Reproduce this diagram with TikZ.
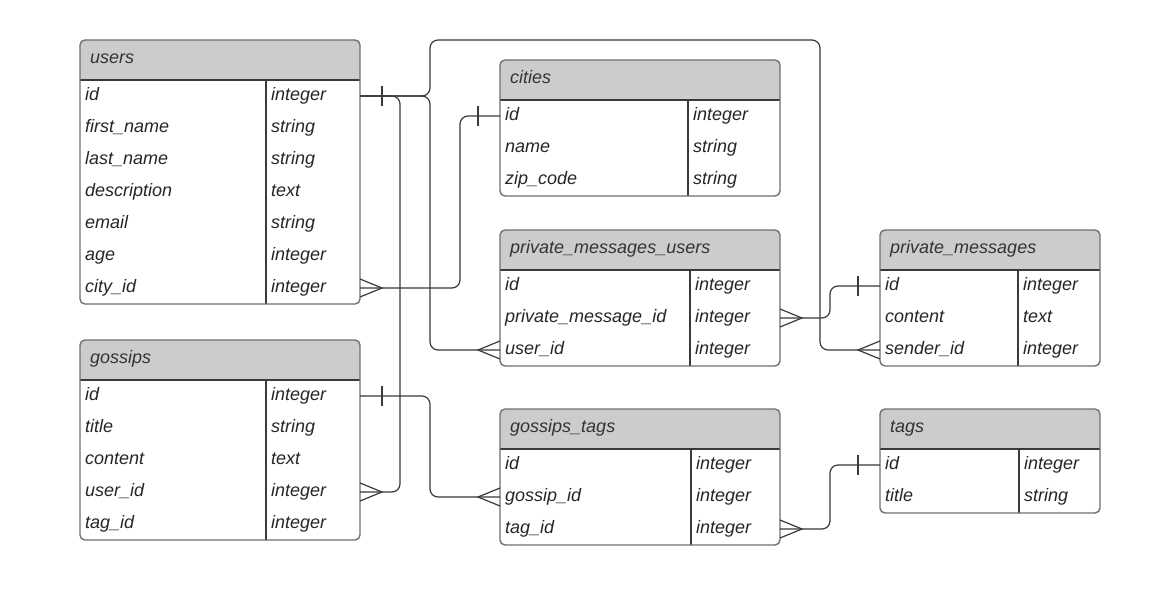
\documentclass[tikz,border=0pt]{standalone}
\usepackage{fontspec}
\setmainfont{Liberation Sans}
\usetikzlibrary{calc}

\definecolor{headgray}{HTML}{CCCCCC}
\definecolor{edgegray}{HTML}{707070}
\definecolor{linegray}{HTML}{3A3A3A}
\definecolor{titletext}{HTML}{333333}

\tikzset{
  tblborder/.style = {draw = edgegray, line width = 1.4pt, rounded corners = 5pt},
  tblline/.style = {draw = linegray, line width = 1.1pt},
  rel/.style = {draw = linegray, line width = 1.2pt, rounded corners = 8pt},
  endmark/.style = {draw = linegray, line width = 1.2pt},
  fieldtext/.style = {anchor = base west, inner sep = 0pt, font = \fontsize{18}{20}\selectfont\itshape, text = black!85},
  titlenode/.style = {fieldtext, text = titletext},
}

% #1 name, #2 left, #3 top, #4 width, #5 divider, #6 title, #7 rows, #8 fields
\newcommand{\erdtable}[8]{
  \pgfmathsetmacro\tblbottom{#3+40+32*#7}
  \begin{scope}
    \clip[rounded corners = 5pt] (#2,#3) rectangle (#2+#4,\tblbottom);
    \fill[white] (#2,#3) rectangle (#2+#4,\tblbottom);
    \fill[headgray] (#2,#3) rectangle (#2+#4,#3+40);
  \end{scope}
  \draw[tblline] (#2,#3+40) -- (#2+#4,#3+40);
  \draw[tblline] (#2+#5,#3+40) -- (#2+#5,\tblbottom);
  \draw[tblborder] (#2,#3) rectangle (#2+#4,\tblbottom);
  \node[titlenode] (#1) at (#2+10,#3+23) {#6};
  \foreach \fld/\typ [count = \i] in {#8} {
    \coordinate (#1-\i w) at (#2,#3+24+32*\i);
    \coordinate (#1-\i e) at (#2+#4,#3+24+32*\i);
    \node[fieldtext] (#1-\i f) at (#2+5,#3+28.5+32*\i) {\fld};
    \node[fieldtext] (#1-\i t) at (#2+#5+5,#3+28.5+32*\i) {\typ};
  }
}
\newcommand{\onemark}[2]{\draw[endmark] ($(#1)+(#2*22,-10)$) -- ($(#1)+(#2*22,10)$);}
\newcommand{\manymark}[2]{\draw[endmark] ($(#1)+(0,-9)$) -- ($(#1)+(#2*22,0)$) -- ($(#1)+(0,9)$);}

\begin{document}
\begin{tikzpicture}[x = 1pt, y = -1pt]
\fill[white] (0,0) rectangle (1160,598);
\useasboundingbox (0,0) rectangle (1160,598);

% tables
\erdtable{users}{80}{40}{280}{186}{users}{7}{id/integer,first\_name/string,last\_name/string,description/text,email/string,age/integer,city\_id/integer}
\erdtable{gossips}{80}{340}{280}{186}{gossips}{5}{id/integer,title/string,content/text,user\_id/integer,tag\_id/integer}
\erdtable{cities}{500}{60}{280}{188}{cities}{3}{id/integer,name/string,zip\_code/string}
\erdtable{pmu}{500}{230}{280}{190}{private\_messages\_users}{3}{id/integer,private\_message\_id/integer,user\_id/integer}
\erdtable{pm}{880}{230}{220}{138}{private\_messages}{3}{id/integer,content/text,sender\_id/integer}
\erdtable{gt}{500}{409}{280}{191}{gossips\_tags}{3}{id/integer,gossip\_id/integer,tag\_id/integer}
\erdtable{tags}{880}{409}{220}{139}{tags}{2}{id/integer,title/string}

% relations
\draw[rel] (users-1e) -- ++(40,0) |- (gossips-4e);
\draw[rel] (users-1e) -- ++(70,0) |- (pmu-3w);
\draw[rel] (users-1e) -- ++(70,0) -- ++(0,-56) -| ($(pm-3w)+(-60,0)$) -- (pm-3w);
\draw[rel] (users-7e) -- ++(100,0) |- (cities-1w);
\draw[rel] (pmu-2e) -- ++(50,0) |- (pm-1w);
\draw[rel] (gossips-1e) -- ++(70,0) |- (gt-2w);
\draw[rel] (gt-3e) -- ++(50,0) |- (tags-1w);

% ends
\onemark{users-1e}{1}
\manymark{gossips-4e}{1}
\manymark{pmu-3w}{-1}
\manymark{pm-3w}{-1}
\manymark{users-7e}{1}
\onemark{cities-1w}{-1}
\manymark{pmu-2e}{1}
\onemark{pm-1w}{-1}
\onemark{gossips-1e}{1}
\manymark{gt-2w}{-1}
\manymark{gt-3e}{1}
\onemark{tags-1w}{-1}
\end{tikzpicture}
\end{document}
